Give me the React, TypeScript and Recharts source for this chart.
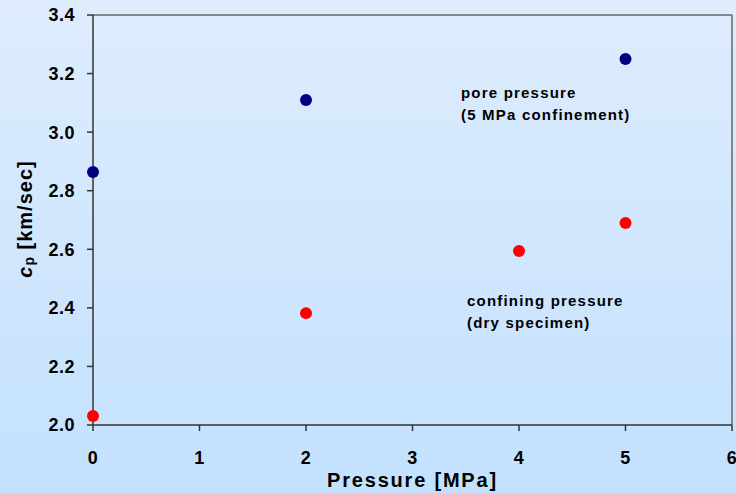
import { ScatterChart, Scatter, XAxis, YAxis, ReferenceLine, Label } from "recharts";

const xTicks = [0, 1, 2, 3, 4, 5, 6];
const yTicks = [2.0, 2.2, 2.4, 2.6, 2.8, 3.0, 3.2, 3.4];

const porePressure = [0, 2, 5];
const poreCp = [2.864, 3.11, 3.25];

const confiningPressure = [0, 2, 4, 5];
const confiningCp = [2.031, 2.382, 2.594, 2.69];

const poreData = porePressure.map((x, i) => ({ x, y: poreCp[i] }));
const confiningData = confiningPressure.map((x, i) => ({ x, y: confiningCp[i] }));

const font = "'Liberation Sans', Arial, sans-serif";
const tickStyle = { fontSize: 18, fontWeight: 700, fill: "#000", fontFamily: font, letterSpacing: 0.5 };

function YTitle() {
  return (
    <text
      x={25}
      y={219}
      transform="rotate(-90 25 219)"
      textAnchor="middle"
      dominantBaseline="central"
      style={{ fontSize: 20, fontWeight: 700, fontFamily: font, fill: "#000", letterSpacing: 1 }}
    >
      <tspan fontStyle="italic">c</tspan>
      <tspan fontSize={14} dy={4}>p</tspan>
      <tspan dy={-4}> [km/sec]</tspan>
    </text>
  );
}

const dot = (color: string) => (props: any) => (
  <circle cx={props.cx} cy={props.cy} r={6} fill={color} />
);

const note = {
  position: "absolute" as const,
  fontFamily: font,
  fontWeight: 700,
  fontSize: 15,
  letterSpacing: 1.2,
  lineHeight: "22px",
  color: "#000",
  whiteSpace: "nowrap" as const,
};

export default function App() {
  return (
    <div
      style={{
        position: "fixed",
        left: 0,
        top: 0,
        width: 736,
        height: 493,
        background: "linear-gradient(to bottom, #DEECFD 0%, #C3E1FD 100%)",
      }}
    >
      <ScatterChart width={736} height={493} margin={{ top: 15, right: 4, bottom: 0, left: 0 }}>
        <XAxis
          type="number"
          dataKey="x"
          domain={[0, 6]}
          ticks={xTicks}
          height={68}
          tick={tickStyle}
          tickSize={6}
          tickMargin={20}
          stroke="#333"
          strokeWidth={1.5}
          interval={0}
        >
          <Label
            value="Pressure [MPa]"
            position="insideBottom"
            offset={6}
            style={{ fontSize: 20, fontWeight: 700, fontFamily: font, fill: "#000", letterSpacing: 1.8 }}
          />
        </XAxis>
        <YAxis
          type="number"
          dataKey="y"
          domain={[2.0, 3.4]}
          ticks={yTicks}
          width={93}
          tick={tickStyle}
          tickSize={6}
          tickMargin={12}
          tickFormatter={(v: number) => v.toFixed(1)}
          stroke="#333"
          strokeWidth={1.5}
          interval={0}
        >
          <Label content={<YTitle />} />
        </YAxis>
        <ReferenceLine y={3.4} stroke="#666" strokeWidth={1.5} />
        <ReferenceLine x={6} stroke="#666" strokeWidth={1.5} />
        <Scatter data={poreData} shape={dot("#000080")} isAnimationActive={false} legendType="none" />
        <Scatter data={confiningData} shape={dot("#FF0000")} isAnimationActive={false} legendType="none" />
      </ScatterChart>
      <div style={{ ...note, left: 461, top: 82 }}>
        pore pressure
        <br />
        (5 MPa confinement)
      </div>
      <div style={{ ...note, left: 467, top: 290 }}>
        confining pressure
        <br />
        (dry specimen)
      </div>
    </div>
  );
}
